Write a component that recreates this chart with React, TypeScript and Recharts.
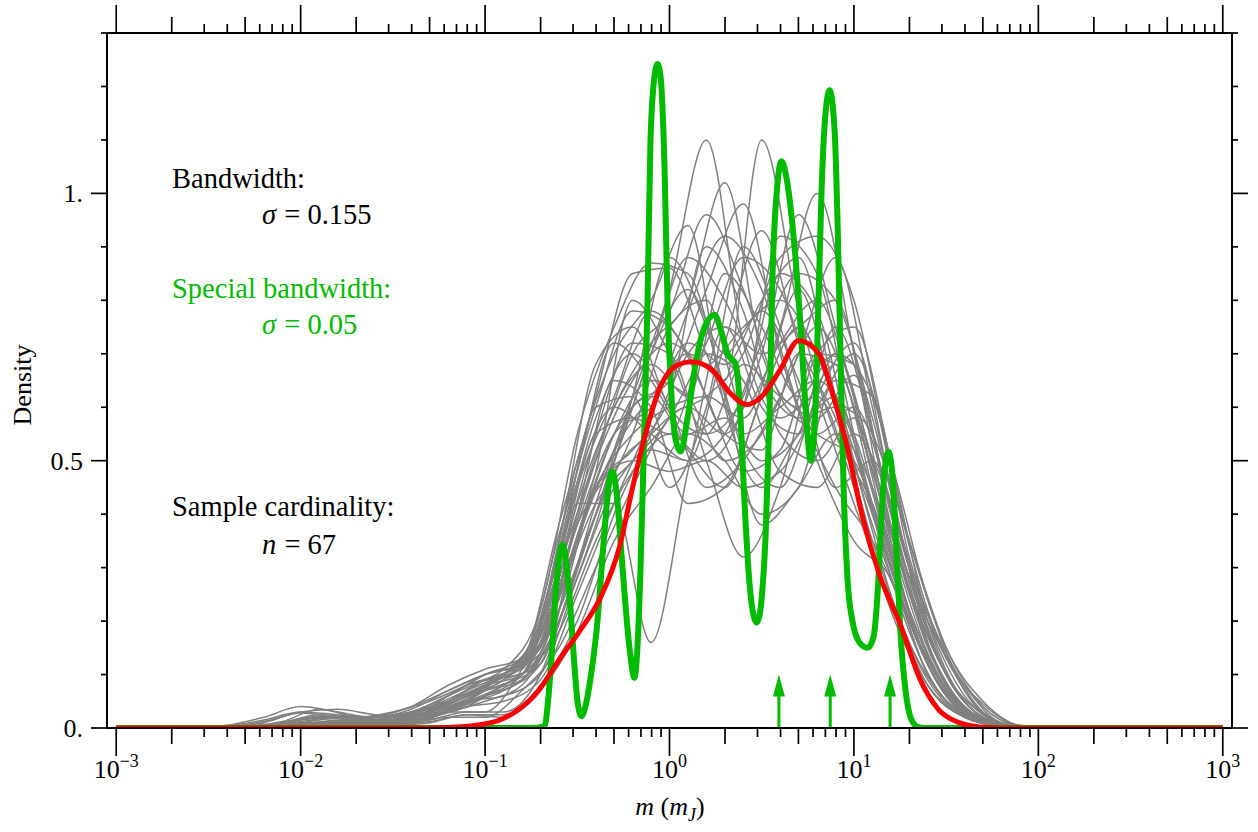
import React from 'react'
import { LineChart, Line, XAxis, YAxis, ReferenceLine, ReferenceDot } from 'recharts'

// x values are log10(m); converted to m when the series are built
const gridA = [-3, -2.6, -2.4, -2.2, -2.0, -1.8, -1.6, -1.4, -1.2, -1.0, -0.8, -0.6, -0.4, -0.2, 0, 0.2, 0.4, 0.6, 0.8, 1.0, 1.2, 1.4, 1.6, 1.8, 2.0, 2.2, 3]
const gridB = [-3, -2.5, -2.3, -2.1, -1.9, -1.7, -1.5, -1.3, -1.1, -0.9, -0.7, -0.5, -0.3, -0.1, 0.1, 0.3, 0.5, 0.7, 0.9, 1.1, 1.3, 1.5, 1.7, 1.9, 2.1, 2.3, 3]

// bootstrap density curves (grey)
const grayOnGridA = [
  [0, 0, 0, 0, 0.002, 0.004, 0.008, 0.02, 0.045, 0.07, 0.09, 0.2, 0.42, 0.62, 0.82, 1.1, 0.72, 0.58, 0.62, 0.45, 0.22, 0.08, 0.02, 0.003, 0, 0, 0],
  [0, 0, 0, 0, 0, 0.002, 0.006, 0.015, 0.03, 0.03, 0.11, 0.25, 0.45, 0.55, 0.6, 0.62, 0.58, 0.75, 1.0, 0.7, 0.35, 0.12, 0.03, 0.005, 0, 0, 0],
  [0, 0, 0, 0.003, 0.01, 0.01, 0.006, 0.01, 0.03, 0.06, 0.1, 0.28, 0.5, 0.7, 0.78, 0.96, 0.82, 0.62, 0.55, 0.5, 0.3, 0.12, 0.03, 0.005, 0, 0, 0],
  [0, 0, 0, 0, 0.005, 0.01, 0.02, 0.03, 0.05, 0.08, 0.12, 0.3, 0.55, 0.72, 0.7, 0.5, 0.32, 0.45, 0.7, 0.75, 0.5, 0.2, 0.05, 0.008, 0, 0, 0],
  [0, 0, 0.005, 0.02, 0.04, 0.03, 0.02, 0.03, 0.06, 0.1, 0.13, 0.38, 0.62, 0.85, 0.86, 0.7, 0.55, 0.6, 0.65, 0.55, 0.32, 0.12, 0.03, 0.005, 0, 0, 0],
  [0, 0, 0, 0, 0, 0, 0.003, 0.01, 0.02, 0.02, 0.07, 0.15, 0.3, 0.45, 0.58, 0.62, 0.7, 0.88, 0.92, 0.8, 0.48, 0.22, 0.07, 0.008, 0, 0, 0],
  [0, 0, 0, 0.005, 0.015, 0.02, 0.015, 0.02, 0.05, 0.09, 0.12, 0.32, 0.6, 0.62, 0.45, 0.6, 0.9, 0.75, 0.55, 0.6, 0.42, 0.18, 0.05, 0.006, 0, 0, 0],
  [0, 0, 0, 0, 0.003, 0.008, 0.02, 0.04, 0.07, 0.1, 0.12, 0.22, 0.4, 0.55, 0.75, 0.8, 0.6, 0.72, 0.8, 0.62, 0.38, 0.2, 0.08, 0.01, 0, 0, 0],
  [0, 0, 0, 0, 0, 0.004, 0.01, 0.02, 0.035, 0.06, 0.09, 0.2, 0.4, 0.6, 0.65, 0.82, 0.98, 0.7, 0.5, 0.35, 0.28, 0.1, 0.025, 0.004, 0, 0, 0],
  [0, 0, 0, 0.002, 0.008, 0.015, 0.02, 0.025, 0.04, 0.07, 0.1, 0.24, 0.45, 0.5, 0.48, 0.5, 0.45, 0.48, 0.6, 0.7, 0.5, 0.24, 0.07, 0.008, 0, 0, 0],
  [0, 0, 0, 0, 0.002, 0.006, 0.01, 0.02, 0.05, 0.09, 0.1, 0.35, 0.68, 0.75, 0.6, 0.55, 0.62, 0.85, 0.78, 0.5, 0.25, 0.08, 0.02, 0.003, 0, 0, 0],
  [0, 0, 0.002, 0.01, 0.03, 0.035, 0.025, 0.02, 0.03, 0.05, 0.08, 0.2, 0.38, 0.62, 0.88, 0.75, 0.52, 0.45, 0.62, 0.72, 0.45, 0.16, 0.04, 0.006, 0, 0, 0],
  [0, 0, 0, 0, 0.004, 0.01, 0.015, 0.03, 0.06, 0.09, 0.11, 0.3, 0.5, 0.65, 0.72, 0.68, 0.75, 0.8, 0.7, 0.52, 0.3, 0.12, 0.03, 0.004, 0, 0, 0],
  [0, 0, 0, 0.003, 0.012, 0.02, 0.02, 0.035, 0.07, 0.1, 0.12, 0.26, 0.48, 0.8, 0.7, 0.55, 0.68, 0.62, 0.58, 0.66, 0.4, 0.16, 0.04, 0.005, 0, 0, 0],
  [0, 0, 0, 0, 0, 0.003, 0.008, 0.02, 0.04, 0.06, 0.09, 0.22, 0.45, 0.52, 0.62, 0.9, 0.78, 0.55, 0.5, 0.58, 0.35, 0.14, 0.035, 0.005, 0, 0, 0],
  [0, 0, 0.004, 0.015, 0.03, 0.025, 0.02, 0.03, 0.05, 0.08, 0.12, 0.33, 0.58, 0.7, 0.6, 0.45, 0.5, 0.62, 0.75, 0.6, 0.33, 0.12, 0.03, 0.004, 0, 0, 0],
  [0, 0, 0, 0, 0.002, 0.005, 0.01, 0.025, 0.05, 0.08, 0.1, 0.25, 0.42, 0.5, 0.58, 0.72, 0.88, 0.82, 0.62, 0.42, 0.24, 0.09, 0.02, 0.003, 0, 0, 0],
  [0, 0, 0, 0.002, 0.006, 0.012, 0.02, 0.04, 0.08, 0.11, 0.13, 0.36, 0.6, 0.78, 0.75, 0.62, 0.48, 0.52, 0.7, 0.68, 0.38, 0.15, 0.04, 0.006, 0, 0, 0],
  [0, 0, 0, 0, 0.003, 0.008, 0.012, 0.02, 0.04, 0.07, 0.1, 0.18, 0.35, 0.48, 0.55, 0.5, 0.6, 0.92, 0.85, 0.55, 0.3, 0.1, 0.025, 0.004, 0, 0, 0],
  [0, 0, 0.003, 0.012, 0.028, 0.02, 0.015, 0.03, 0.06, 0.1, 0.12, 0.3, 0.55, 0.58, 0.55, 0.7, 0.65, 0.48, 0.45, 0.55, 0.42, 0.2, 0.06, 0.01, 0, 0, 0],
]

const grayOnGridB = [
  [0, 0, 0, 0, 0.002, 0.006, 0.01, 0.02, 0.04, 0.08, 0.12, 0.35, 0.52, 0.62, 0.7, 0.65, 1.1, 0.78, 0.55, 0.42, 0.22, 0.07, 0.015, 0, 0, 0, 0],
  [0, 0, 0, 0.003, 0.01, 0.012, 0.01, 0.02, 0.05, 0.1, 0.16, 0.42, 0.6, 0.72, 0.8, 1.02, 0.7, 0.6, 0.68, 0.45, 0.2, 0.06, 0.01, 0, 0, 0, 0],
  [0, 0, 0, 0, 0.004, 0.01, 0.02, 0.04, 0.07, 0.1, 0.15, 0.42, 0.42, 0.16, 0.48, 0.75, 0.7, 0.75, 0.8, 0.55, 0.28, 0.1, 0.02, 0, 0, 0, 0],
  [0, 0, 0, 0, 0, 0.003, 0.008, 0.015, 0.03, 0.03, 0.1, 0.3, 0.48, 0.55, 0.6, 0.55, 0.7, 0.96, 0.75, 0.48, 0.26, 0.1, 0.025, 0, 0, 0, 0],
  [0, 0, 0.003, 0.012, 0.035, 0.02, 0.015, 0.03, 0.06, 0.1, 0.2, 0.5, 0.7, 0.8, 0.94, 0.6, 0.45, 0.55, 0.62, 0.4, 0.18, 0.05, 0.01, 0, 0, 0, 0],
  [0, 0, 0, 0, 0, 0, 0.004, 0.01, 0.025, 0.02, 0.07, 0.18, 0.35, 0.45, 0.55, 0.5, 0.4, 0.45, 0.65, 0.62, 0.32, 0.13, 0.045, 0.004, 0, 0, 0],
  [0, 0, 0, 0.002, 0.008, 0.012, 0.01, 0.02, 0.05, 0.09, 0.12, 0.35, 0.55, 0.65, 0.62, 0.5, 0.55, 0.7, 0.88, 0.6, 0.3, 0.1, 0.02, 0, 0, 0, 0],
  [0, 0, 0, 0, 0.003, 0.008, 0.015, 0.03, 0.06, 0.1, 0.17, 0.46, 0.6, 0.55, 0.5, 0.72, 0.93, 0.72, 0.58, 0.4, 0.2, 0.06, 0.012, 0, 0, 0, 0],
  [0, 0, 0.002, 0.01, 0.025, 0.02, 0.03, 0.05, 0.08, 0.11, 0.22, 0.55, 0.75, 0.87, 0.85, 0.62, 0.38, 0.45, 0.55, 0.45, 0.22, 0.07, 0.015, 0, 0, 0, 0],
  [0, 0, 0, 0, 0, 0.002, 0.006, 0.012, 0.025, 0.025, 0.08, 0.2, 0.4, 0.55, 0.7, 0.75, 0.6, 0.55, 0.7, 0.62, 0.35, 0.15, 0.05, 0.005, 0, 0, 0],
  [0, 0, 0, 0.004, 0.015, 0.02, 0.02, 0.03, 0.06, 0.1, 0.14, 0.4, 0.65, 0.6, 0.42, 0.45, 0.62, 0.82, 0.6, 0.35, 0.16, 0.05, 0.01, 0, 0, 0, 0],
  [0, 0, 0, 0, 0.004, 0.01, 0.015, 0.03, 0.07, 0.1, 0.15, 0.38, 0.5, 0.7, 0.82, 0.7, 0.78, 0.65, 0.45, 0.5, 0.3, 0.14, 0.03, 0, 0, 0, 0],
  [0, 0, 0, 0, 0.003, 0.008, 0.012, 0.025, 0.05, 0.08, 0.14, 0.4, 0.6, 0.68, 0.62, 0.85, 0.75, 0.62, 0.7, 0.5, 0.25, 0.08, 0.015, 0, 0, 0, 0],
  [0, 0, 0, 0.003, 0.01, 0.015, 0.012, 0.02, 0.045, 0.07, 0.12, 0.3, 0.5, 0.7, 0.88, 0.8, 0.65, 0.58, 0.6, 0.42, 0.2, 0.06, 0.012, 0, 0, 0, 0],
  [0, 0, 0, 0, 0.002, 0.006, 0.012, 0.025, 0.05, 0.06, 0.1, 0.28, 0.45, 0.52, 0.5, 0.55, 0.72, 0.85, 0.8, 0.58, 0.3, 0.1, 0.02, 0, 0, 0, 0],
  [0, 0, 0.002, 0.008, 0.02, 0.018, 0.02, 0.04, 0.08, 0.1, 0.2, 0.48, 0.72, 0.65, 0.55, 0.58, 0.5, 0.55, 0.75, 0.55, 0.26, 0.08, 0.015, 0, 0, 0, 0],
  [0, 0, 0, 0, 0.003, 0.01, 0.02, 0.035, 0.06, 0.09, 0.16, 0.38, 0.55, 0.6, 0.72, 0.68, 0.8, 0.88, 0.62, 0.38, 0.2, 0.07, 0.015, 0, 0, 0, 0],
  [0, 0, 0, 0.002, 0.008, 0.012, 0.015, 0.03, 0.06, 0.1, 0.18, 0.45, 0.62, 0.78, 0.7, 0.55, 0.52, 0.7, 0.68, 0.48, 0.26, 0.1, 0.025, 0, 0, 0, 0],
  [0, 0, 0, 0, 0.002, 0.005, 0.01, 0.02, 0.04, 0.05, 0.09, 0.25, 0.42, 0.58, 0.78, 0.92, 0.82, 0.6, 0.45, 0.35, 0.2, 0.07, 0.015, 0, 0, 0, 0],
  [0, 0, 0.002, 0.01, 0.022, 0.018, 0.015, 0.03, 0.06, 0.1, 0.15, 0.36, 0.55, 0.62, 0.52, 0.45, 0.62, 0.75, 0.62, 0.55, 0.35, 0.15, 0.04, 0.004, 0, 0, 0],
]

// KDE with bandwidth 0.155 (red)
const redLogM = [-3, -1.4, -1.2, -1.03, -0.92, -0.82, -0.71, -0.6, -0.49, -0.38, -0.27, -0.2, -0.13, -0.06, 0.05, 0.12, 0.23, 0.32, 0.42, 0.5, 0.6, 0.7, 0.81, 0.88, 0.96, 1.05, 1.14, 1.25, 1.36, 1.46, 1.57, 1.68, 1.8, 3]
const redDensity = [0, 0, 0.001, 0.006, 0.015, 0.034, 0.07, 0.127, 0.18, 0.24, 0.34, 0.45, 0.55, 0.63, 0.68, 0.685, 0.67, 0.63, 0.605, 0.62, 0.67, 0.725, 0.7, 0.63, 0.53, 0.39, 0.285, 0.195, 0.09, 0.034, 0.01, 0.002, 0, 0]

// KDE with bandwidth 0.05 (green)
const greenLogM = [-3, -0.75, -0.678, -0.656, -0.64, -0.613, -0.58, -0.548, -0.515, -0.499, -0.477, -0.456, -0.434, -0.396, -0.352, -0.331, -0.309, -0.287, -0.255, -0.217, -0.19, -0.174, -0.157, -0.141, -0.119, -0.103, -0.081, -0.065, -0.049, -0.027, -0.011, 0.011, 0.033, 0.06, 0.098, 0.141, 0.19, 0.244, 0.282, 0.315, 0.336, 0.352, 0.369, 0.385, 0.407, 0.434, 0.456, 0.472, 0.488, 0.504, 0.521, 0.542, 0.559, 0.586, 0.607, 0.634, 0.667, 0.705, 0.738, 0.765, 0.786, 0.808, 0.824, 0.846, 0.868, 0.895, 0.911, 0.927, 0.944, 0.965, 0.992, 1.03, 1.074, 1.106, 1.128, 1.15, 1.166, 1.188, 1.209, 1.231, 1.252, 1.28, 1.307, 1.345, 1.383, 3]
const greenDensity = [0, 0, 0.003, 0.06, 0.13, 0.27, 0.343, 0.27, 0.115, 0.05, 0.022, 0.04, 0.08, 0.18, 0.37, 0.45, 0.48, 0.44, 0.3, 0.15, 0.094, 0.15, 0.3, 0.5, 0.8, 1.1, 1.22, 1.242, 1.22, 1.05, 0.8, 0.62, 0.54, 0.517, 0.58, 0.68, 0.75, 0.773, 0.74, 0.7, 0.69, 0.685, 0.66, 0.58, 0.42, 0.27, 0.21, 0.197, 0.21, 0.26, 0.36, 0.58, 0.85, 1.02, 1.06, 1.03, 0.94, 0.78, 0.6, 0.5, 0.56, 0.8, 1.0, 1.15, 1.193, 1.12, 0.95, 0.7, 0.45, 0.28, 0.2, 0.16, 0.15, 0.17, 0.25, 0.4, 0.48, 0.517, 0.47, 0.33, 0.18, 0.07, 0.02, 0.002, 0, 0]

// arrows marking special masses
const arrowMasses = [3.92, 7.44, 15.7]
const arrowTop = 0.1

const decadeExps = [-3, -2, -1, 0, 1, 2, 3]
const minorMults = [2, 3, 4, 5, 6, 7, 8, 9]
const midMults = [2, 5]
const yTicks = [0, 0.1, 0.2, 0.3, 0.4, 0.5, 0.6, 0.7, 0.8, 0.9, 1.0, 1.1, 1.2, 1.3]
const yMajor = [0, 0.5, 1]
const yMajorLabels = ['0.', '0.5', '1.']

const GREEN = '#00bb00'
const FONT = '"Liberation Serif", "Times New Roman", serif'
const NB = '\u00a0'

const toM = (l: number) => Math.pow(10, l)
const series = (logs: number[], vals: number[]) => logs.map((l, i) => ({ m: toM(l), d: vals[i] }))

const xTicks: number[] = []
decadeExps.forEach((e) => {
  xTicks.push(toM(e))
  if (e < 3) minorMults.forEach((k) => xTicks.push(k * toM(e)))
})

const tickKind = (v: number) => {
  const e = Math.floor(Math.log10(v) + 1e-9)
  const k = Math.round(v / toM(e))
  return { e, kind: k === 1 ? 'major' : midMults.includes(k) ? 'mid' : 'minor' }
}
const xLen = (kind: string) => (kind === 'major' ? 28 : kind === 'mid' ? 16 : 9)
const expLabel = (e: number) => (e < 0 ? `\u2212${-e}` : `${e}`)

const BottomTick = (props: any) => {
  const { x, y, payload } = props
  const { e, kind } = tickKind(payload.value)
  return (
    <g>
      <line x1={x} x2={x} y1={y} y2={y + xLen(kind)} stroke="#000" strokeWidth={1.7} />
      {kind === 'major' && (
        <text x={x} y={y + 50} textAnchor="middle" fontSize={26} fontFamily={FONT} fill="#000">
          10<tspan dy={-11} fontSize={18}>{expLabel(e)}</tspan>
        </text>
      )}
    </g>
  )
}

const TopTick = (props: any) => {
  const { x, y, payload } = props
  const { kind } = tickKind(payload.value)
  return <line x1={x} x2={x} y1={y} y2={y - xLen(kind)} stroke="#000" strokeWidth={1.7} />
}

const LeftTick = (props: any) => {
  const { x, y, payload } = props
  const idx = yMajor.indexOf(payload.value)
  const len = idx >= 0 ? 16 : 6
  return (
    <g>
      <line x1={x} x2={x - len} y1={y} y2={y} stroke="#000" strokeWidth={1.7} />
      {idx >= 0 && (
        <text x={x - 24} y={y} dy="0.35em" textAnchor="end" fontSize={26} fontFamily={FONT} fill="#000">
          {yMajorLabels[idx]}
        </text>
      )}
    </g>
  )
}

const RightTick = (props: any) => {
  const { x, y, payload } = props
  const len = yMajor.indexOf(payload.value) >= 0 ? 16 : 6
  return <line x1={x} x2={x + len} y1={y} y2={y} stroke="#000" strokeWidth={1.7} />
}

const ArrowHead = (props: any) => {
  const { cx, cy } = props
  return <path d={`M${cx},${cy} L${cx - 6},${cy + 22} L${cx + 6},${cy + 22} Z`} fill={GREEN} />
}

const xDomain = [toM(-3.05), toM(3.05)]
const axisLine = { stroke: '#000', strokeWidth: 2 }

export default function App() {
  const grayData = [
    ...grayOnGridA.map((vals) => series(gridA, vals)),
    ...grayOnGridB.map((vals) => series(gridB, vals)),
  ]
  const redData = series(redLogM, redDensity)
  const greenData = series(greenLogM, greenDensity)

  return (
    <div style={{ position: 'absolute', left: 0, top: 0, width: 1258, height: 832, background: '#fff' }}>
      <LineChart width={1258} height={832} margin={{ top: 3, right: 6, bottom: 44, left: 47 }}>
        <XAxis
          xAxisId="b"
          dataKey="m"
          type="number"
          scale="log"
          domain={xDomain}
          allowDataOverflow
          ticks={xTicks}
          interval={0}
          height={60}
          tickSize={0}
          tickMargin={0}
          tickLine={false}
          axisLine={axisLine}
          tick={<BottomTick />}
        />
        <XAxis
          xAxisId="t"
          orientation="top"
          dataKey="m"
          type="number"
          scale="log"
          domain={xDomain}
          allowDataOverflow
          ticks={xTicks}
          interval={0}
          height={30}
          tickSize={0}
          tickMargin={0}
          tickLine={false}
          axisLine={axisLine}
          tick={<TopTick />}
        />
        <YAxis
          yAxisId="l"
          type="number"
          domain={[0, 1.3]}
          allowDataOverflow
          ticks={yTicks}
          interval={0}
          width={60}
          tickSize={0}
          tickMargin={0}
          tickLine={false}
          axisLine={axisLine}
          tick={<LeftTick />}
        />
        <YAxis
          yAxisId="r"
          orientation="right"
          type="number"
          domain={[0, 1.3]}
          allowDataOverflow
          ticks={yTicks}
          interval={0}
          width={20}
          tickSize={0}
          tickMargin={0}
          tickLine={false}
          axisLine={axisLine}
          tick={<RightTick />}
        />
        {grayData.map((d, i) => (
          <Line
            key={`gray-${i}`}
            xAxisId="b"
            yAxisId="l"
            data={d}
            dataKey="d"
            type="monotone"
            stroke="#808080"
            strokeWidth={1.5}
            dot={false}
            activeDot={false}
            isAnimationActive={false}
          />
        ))}
        <Line
          xAxisId="b"
          yAxisId="l"
          data={greenData}
          dataKey="d"
          type="monotone"
          stroke={GREEN}
          strokeWidth={6}
          dot={false}
          activeDot={false}
          isAnimationActive={false}
        />
        <Line
          xAxisId="b"
          yAxisId="l"
          data={redData}
          dataKey="d"
          type="monotone"
          stroke="#ff0000"
          strokeWidth={5}
          dot={false}
          activeDot={false}
          isAnimationActive={false}
        />
        {arrowMasses.map((m) => (
          <ReferenceLine
            key={`shaft-${m}`}
            xAxisId="b"
            yAxisId="l"
            segment={[{ x: m, y: 0 }, { x: m, y: arrowTop * 0.7 }]}
            stroke={GREEN}
            strokeWidth={3}
          />
        ))}
        {arrowMasses.map((m) => (
          <ReferenceDot
            key={`head-${m}`}
            xAxisId="b"
            yAxisId="l"
            x={m}
            y={arrowTop}
            r={0}
            shape={<ArrowHead />}
          />
        ))}
      </LineChart>
      <svg
        width={1258}
        height={832}
        style={{ position: 'absolute', left: 0, top: 0, pointerEvents: 'none' }}
        fontFamily={FONT}
        fontSize={28.5}
      >
        <text x={172} y={188} fill="#000">Bandwidth:</text>
        <text x={262} y={224} fill="#000">
          <tspan fontStyle="italic">σ</tspan>
          <tspan dx={1}>{`${NB}=${NB}0.155`}</tspan>
        </text>
        <text x={172} y={298} fill={GREEN}>Special bandwidth:</text>
        <text x={262} y={334} fill={GREEN}>
          <tspan fontStyle="italic">σ</tspan>
          <tspan dx={1}>{`${NB}=${NB}0.05`}</tspan>
        </text>
        <text x={172} y={516} fill="#000">Sample cardinality:</text>
        <text x={262} y={554} fill="#000">
          <tspan fontStyle="italic">n</tspan>
          <tspan dx={1}>{`${NB}=${NB}67`}</tspan>
        </text>
        <text x={31} y={385} transform="rotate(-90 31 385)" textAnchor="middle" fontSize={26} fill="#000">Density</text>
        <text x={670} y={815} textAnchor="middle" fontSize={26} fill="#000">
          <tspan fontStyle="italic">m</tspan>
          {' ('}
          <tspan fontStyle="italic">m</tspan>
          <tspan fontStyle="italic" fontSize={18} dy={6}>J</tspan>
          <tspan dy={-6}>)</tspan>
        </text>
      </svg>
    </div>
  )
}
